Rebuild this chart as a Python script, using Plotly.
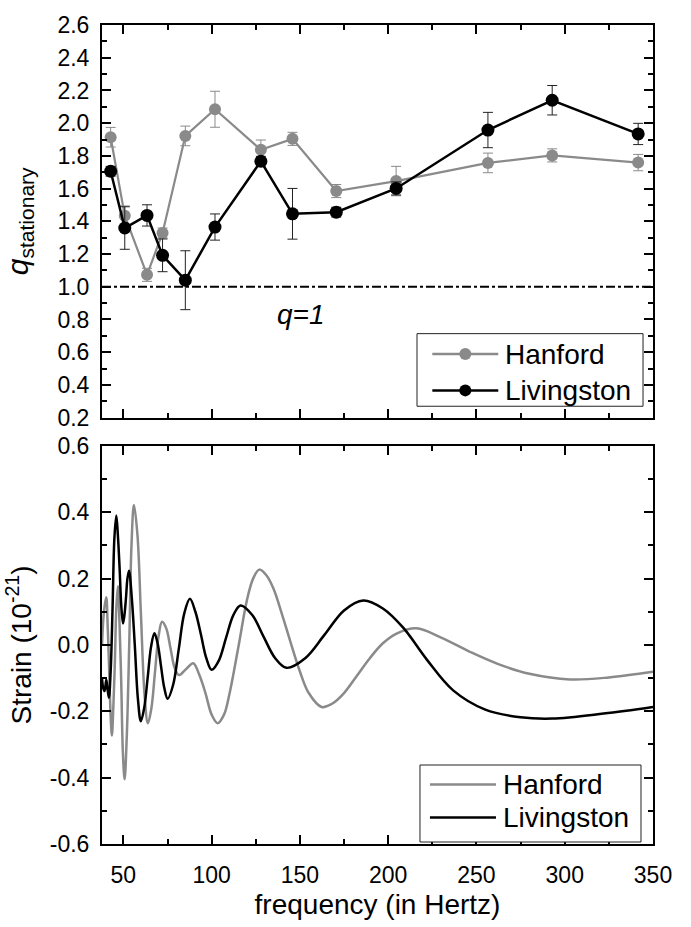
import plotly.graph_objects as go

# ---------------- data: top panel (q_stationary) ----------------
q_freq = [42.8, 50.8, 63.4, 72.2, 85.1, 101.9, 127.9, 145.8, 170.6, 204.5, 256.5, 292.9, 341.6]
q_hanford = [1.914, 1.434, 1.073, 1.329, 1.922, 2.085, 1.837, 1.904, 1.585, 1.646, 1.757, 1.803, 1.759]
q_hanford_err = [0.06, 0.06, 0.04, 0.03, 0.06, 0.11, 0.06, 0.04, 0.04, 0.09, 0.06, 0.04, 0.05]
q_livingston = [1.706, 1.359, 1.436, 1.192, 1.040, 1.365, 1.767, 1.446, 1.456, 1.601, 1.958, 2.140, 1.934]
q_livingston_err = [0.03, 0.13, 0.065, 0.10, 0.18, 0.08, 0.03, 0.155, 0.03, 0.04, 0.108, 0.09, 0.065]
q_reference = 1.0
q_ref_label = "<i>q=1</i>"
q_ref_label_pos = (150.5, 0.83)

# ---------------- data: bottom panel (strain) ----------------
hanford_freq = [37.9, 39.0, 40.3, 41.1, 41.9, 42.7, 43.5, 44.3, 45.2, 46.0, 46.9, 47.8, 48.8, 49.7,
                50.7, 51.9, 53.35, 54.6, 56.0, 58.0, 59.95, 62.0, 63.9, 65.9, 67.9, 69.9, 71.9,
                74.3, 76.7, 79.1, 81.5, 85.5, 89.6, 93.0, 96.5, 100.0, 103.4, 107.0, 110.0, 115.2,
                120.0, 123.5, 127.0, 131.0, 135.0, 140.0, 144.6, 150.0, 155.0, 162.3, 168.0, 175.0,
                182.0, 189.6, 197.0, 205.0, 216.0, 230.0, 246.0, 262.0, 280.0, 303.0, 325.0, 350.0]
hanford_strain = [0.0, 0.10, 0.144, 0.06, -0.065, -0.20, -0.273, -0.19, -0.048, 0.11, 0.177, 0.07, -0.114, -0.32,
                  -0.405, -0.28, 0.008, 0.30, 0.422, 0.33, 0.093, -0.15, -0.236, -0.19, -0.083, 0.025, 0.07,
                  0.05, -0.01, -0.07, -0.091, -0.073, -0.055, -0.09, -0.145, -0.21, -0.236, -0.21, -0.15, -0.005,
                  0.135, 0.20, 0.227, 0.21, 0.17, 0.09, 0.01, -0.08, -0.145, -0.187, -0.178, -0.145,
                  -0.095, -0.04, 0.005, 0.035, 0.05, 0.022, -0.02, -0.057, -0.087, -0.104, -0.098, -0.081]
livingston_freq = [37.9, 38.6, 39.4, 40.3, 41.0, 41.8, 42.8, 43.9, 44.9, 46.0, 46.9, 47.9, 48.8, 49.8,
                   50.6, 51.5, 52.3, 53.2, 54.8, 56.5, 58.2, 59.9, 61.8, 63.8, 65.7, 67.6, 69.4, 71.3,
                   73.2, 75.1, 78.2, 81.4, 84.5, 87.7, 90.8, 93.9, 97.0, 100.0, 104.0, 108.2, 112.3,
                   116.4, 123.0, 129.4, 136.0, 142.4, 153.0, 164.0, 175.0, 185.9, 197.0, 208.5, 222.0,
                   236.8, 255.0, 275.0, 293.0, 322.0, 350.0]
livingston_strain = [-0.10, -0.13, -0.139, -0.104, -0.13, -0.159, -0.08, 0.115, 0.32, 0.39, 0.33, 0.228, 0.12, 0.065,
                     0.09, 0.143, 0.20, 0.224, 0.14, -0.003, -0.16, -0.23, -0.19, -0.097, -0.005, 0.035, 0.005, -0.063,
                     -0.13, -0.162, -0.12, -0.012, 0.095, 0.139, 0.10, 0.032, -0.04, -0.075, -0.048, 0.022, 0.09,
                     0.119, 0.09, 0.025, -0.04, -0.069, -0.04, 0.031, 0.104, 0.134, 0.11, 0.052, -0.045,
                     -0.137, -0.195, -0.218, -0.222, -0.207, -0.187]

# ---------------- tick labels ----------------
x_tickvals = [50, 100, 150, 200, 250, 300, 350]
x_ticktext = ["50", "100", "150", "200", "250", "300", "350"]
q_tickvals = [0.2, 0.4, 0.6, 0.8, 1.0, 1.2, 1.4, 1.6, 1.8, 2.0, 2.2, 2.4, 2.6]
q_ticktext = ["0.2", "0.4", "0.6", "0.8", "1.0", "1.2", "1.4", "1.6", "1.8", "2.0", "2.2", "2.4", "2.6"]
s_tickvals = [-0.6, -0.4, -0.2, 0.0, 0.2, 0.4, 0.6]
s_ticktext = ["-0.6", "-0.4", "-0.2", "0.0", "0.2", "0.4", "0.6"]

series_names = ["Hanford", "Livingston"]
GRAY = "#8a8a8a"
BLACK = "#000000"
FONT = "Liberation Sans, Arial, sans-serif"

fig = go.Figure()

# top panel
fig.add_trace(go.Scatter(
    x=q_freq, y=q_hanford, mode="lines+markers", name=series_names[0],
    line=dict(color=GRAY, width=2.2), marker=dict(color=GRAY, size=12, symbol="circle"),
    error_y=dict(type="data", array=q_hanford_err, color=GRAY, thickness=1, width=5),
    xaxis="x", yaxis="y", showlegend=False))
fig.add_trace(go.Scatter(
    x=q_freq, y=q_livingston, mode="lines+markers", name=series_names[1],
    line=dict(color=BLACK, width=2.5), marker=dict(color=BLACK, size=13, symbol="circle"),
    error_y=dict(type="data", array=q_livingston_err, color="#222222", thickness=1, width=5),
    xaxis="x", yaxis="y", showlegend=False))

# bottom panel
fig.add_trace(go.Scatter(
    x=hanford_freq, y=hanford_strain, mode="lines", name=series_names[0],
    line=dict(color=GRAY, width=2.5, shape="spline", smoothing=1.0),
    xaxis="x2", yaxis="y2", showlegend=False))
fig.add_trace(go.Scatter(
    x=livingston_freq, y=livingston_strain, mode="lines", name=series_names[1],
    line=dict(color=BLACK, width=2.5, shape="spline", smoothing=1.0),
    xaxis="x2", yaxis="y2", showlegend=False))

axis_common = dict(showline=True, linecolor="black", linewidth=2, mirror="ticks",
                   ticks="inside", ticklen=9, tickwidth=2, tickcolor="black",
                   showgrid=False, zeroline=False,
                   tickfont=dict(family=FONT, size=23, color="black"))
x_common = dict(axis_common, range=[37.9, 350], tickvals=x_tickvals, ticktext=x_ticktext,
                minor=dict(dtick=25, tick0=0, ticks="inside", ticklen=5, tickwidth=2, tickcolor="black"))

fig.update_layout(
    width=691, height=927,
    margin=dict(l=102, r=38, t=20, b=80),
    paper_bgcolor="white", plot_bgcolor="white",
    font=dict(family=FONT, color="black"),
    showlegend=False,
    xaxis=dict(x_common, anchor="y", showticklabels=False),
    yaxis=dict(axis_common, domain=[0.5206, 1.0], range=[0.2, 2.6], anchor="x",
               tickvals=q_tickvals, ticktext=q_ticktext, ticklabelstandoff=6,
               minor=dict(dtick=0.1, tick0=0, ticks="inside", ticklen=5, tickwidth=2, tickcolor="black"),
               title=dict(text="<i>q</i><sub>stationary</sub>", font=dict(family=FONT, size=30), standoff=20)),
    xaxis2=dict(x_common, anchor="y2", ticklabelstandoff=9,
                title=dict(text="frequency (in Hertz)", font=dict(family=FONT, size=28), standoff=8)),
    yaxis2=dict(axis_common, domain=[0.0, 0.4861], range=[-0.6, 0.6], anchor="x2",
                tickvals=s_tickvals, ticktext=s_ticktext, ticklabelstandoff=6,
                minor=dict(dtick=0.1, tick0=0, ticks="inside", ticklen=5, tickwidth=2, tickcolor="black"),
                title=dict(text="Strain (10<sup>-21</sup>)", font=dict(family=FONT, size=28), standoff=10)),
)

# q = 1 reference line
fig.add_shape(type="line", xref="x domain", yref="y", x0=0, x1=1, y0=q_reference, y1=q_reference,
              line=dict(color="black", width=2, dash="9px,3px,3px,3px"))
fig.add_annotation(x=q_ref_label_pos[0], y=q_ref_label_pos[1], xref="x", yref="y", text=q_ref_label,
                   showarrow=False, font=dict(family=FONT, size=28, color="black"))

# custom legends (drawn in axis-domain coordinates)
def add_legend(xref, yref, box, rows, with_marker):
    fig.add_shape(type="rect", xref=xref, yref=yref, x0=box[0], x1=box[1], y0=box[2], y1=box[3],
                  line=dict(color="#222222", width=1), fillcolor="white", layer="above")
    for (name, color, yy) in rows:
        fig.add_shape(type="line", xref=xref, yref=yref, x0=box[4], x1=box[5], y0=yy, y1=yy,
                      line=dict(color=color, width=2.5))
        if with_marker:
            xm = (box[4] + box[5]) / 2
            fig.add_shape(type="circle", xref=xref, yref=yref, xsizemode="pixel", ysizemode="pixel",
                          xanchor=xm, yanchor=yy, x0=-6, x1=6, y0=-6, y1=6,
                          fillcolor=color, line=dict(width=0))
        fig.add_annotation(xref=xref, yref=yref, x=box[6], y=yy, text=name, showarrow=False,
                           xanchor="left", yanchor="middle", font=dict(family=FONT, size=28, color="black"))

add_legend("x domain", "y domain", (0.5717, 0.9819, 0.029, 0.2139, 0.5995, 0.7192, 0.728),
           [(series_names[0], GRAY, 0.1618), (series_names[1], BLACK, 0.0694)], True)
add_legend("x2 domain", "y2 domain", (0.5771, 0.9782, 0.005, 0.1984, 0.5952, 0.7150, 0.724),
           [(series_names[0], GRAY, 0.1494), (series_names[1], BLACK, 0.0665)], False)

fig.write_html("out.html", config={"displayModeBar": False},
               post_script="document.body.style.margin='0px';")
